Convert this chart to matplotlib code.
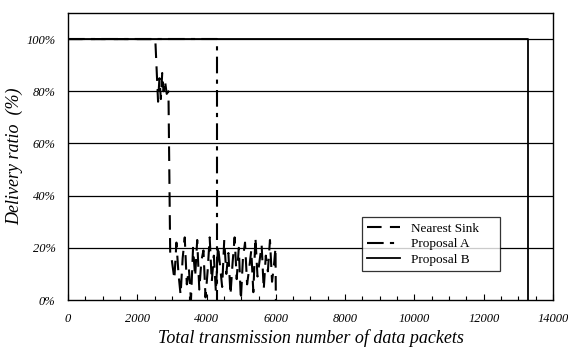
import matplotlib
matplotlib.use("Agg")
import matplotlib.pyplot as plt
from matplotlib.ticker import MultipleLocator

# Nearest Sink
ns_x = [0, 2520, 2600, 2640, 2680, 2720, 2760, 2800, 2850, 2900, 2950,
        2970, 3010, 3070, 3130, 3190, 3250, 3310, 3370, 3430, 3490, 3550,
        3610, 3670, 3730, 3790, 3850, 3910, 3970, 4030, 4090, 4150, 4210,
        4270, 4330, 4390, 4450, 4510, 4570, 4630, 4690, 4750, 4810, 4870,
        4930, 4990, 5050, 5110, 5170, 5230, 5290, 5350, 5410, 5470, 5530,
        5590, 5650, 5710, 5770, 5830, 5890, 5950, 5990, 6000, 6010]
ns_y = [100, 100, 76, 85, 77, 87, 80, 84, 79, 80, 18,
        18, 14, 8, 22, 10, 2, 16, 24, 6, 12, 0,
        20, 9, 23, 4, 15, 19, 1, 11, 24, 7, 17,
        3, 21, 13, 5, 23, 10, 18, 2, 14, 24, 8,
        20, 0, 16, 22, 6, 12, 19, 3, 24, 9, 15,
        21, 4, 17, 11, 23, 7, 14, 20, 0, 0]

# Proposal A
pa_x = [0, 4300, 4300]
pa_y = [100, 100, 0]

# Proposal B
pb_x = [0, 13290, 13290]
pb_y = [100, 100, 0]

y_ticks = [0, 20, 40, 60, 80, 100]
y_labels = ["0%", "20%", "40%", "60%", "80%", "100%"]
x_ticks = [0, 2000, 4000, 6000, 8000, 10000, 12000, 14000]

serif = "Liberation Serif"

fig = plt.figure(figsize=(5.68, 3.49), dpi=100)
ax = fig.add_axes([0.1197, 0.1404, 0.8539, 0.8224])

for yv in y_ticks[1:]:
    ax.axhline(yv, color="black", lw=0.9, zorder=1)

ax.plot(ns_x, ns_y, color="black", lw=1.5, dashes=(7, 4), label="Nearest Sink", zorder=3)
ax.plot(pa_x, pa_y, color="black", lw=1.5, dashes=(8, 3, 2, 3), label="Proposal A", zorder=3)
ax.plot(pb_x, pb_y, color="black", lw=1.3, label="Proposal B", zorder=2)

ax.set_xlim(0, 14000)
ax.set_ylim(0, 110)
ax.set_yticks(y_ticks)
ax.set_yticklabels(y_labels, fontfamily=serif, fontstyle="italic", fontsize=9)
ax.set_xticks(x_ticks)
ax.set_xticklabels([str(v) for v in x_ticks], fontfamily=serif, fontstyle="italic", fontsize=9)
ax.xaxis.set_minor_locator(MultipleLocator(500))
ax.tick_params(axis="x", which="major", length=4, direction="in", pad=9, width=0.8)
ax.tick_params(axis="x", which="minor", length=3, direction="in", width=0.8)
ax.tick_params(axis="y", which="major", length=0, pad=9)

for s in ax.spines.values():
    s.set_linewidth(1.0)

ax.set_xlabel("Total transmission number of data packets", fontfamily=serif,
              fontstyle="italic", fontsize=13, labelpad=3)
ax.set_ylabel("Delivery ratio  (%)", fontfamily=serif, fontstyle="italic",
              fontsize=13, labelpad=2)

leg = ax.legend(loc="lower left", bbox_to_anchor=(0.606, 0.10, 0.285, 0.133),
                mode="expand", prop={"family": serif, "size": 9.5},
                frameon=True, fancybox=False, edgecolor="black",
                handlelength=2.5, borderaxespad=0, labelspacing=0.25,
                borderpad=0.4)
leg.get_frame().set_linewidth(0.9)

fig.savefig("out.png", dpi=100)
